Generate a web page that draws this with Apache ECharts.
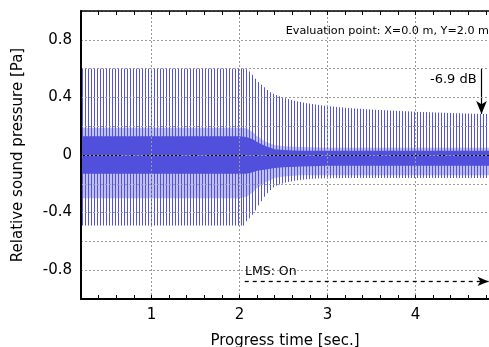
<!DOCTYPE html>
<html>
<head>
<meta charset="utf-8">
<script src="https://cdn.jsdelivr.net/npm/echarts@6/dist/echarts.min.js"></script>
<style>html,body{margin:0;padding:0;background:#fff}#c{width:489px;height:347px}</style>
</head>
<body>
<div id="c"></div>
<script>
// ---- data ----
const spikeTime = [0.21,0.244,0.278,0.312,0.346,0.38,0.414,0.448,0.482,0.516,0.55,0.584,0.618,0.652,0.686,0.72,0.754,0.788,0.822,0.856,0.89,0.924,0.958,0.992,1.026,1.06,1.094,1.128,1.162,1.196,1.23,1.264,1.298,1.332,1.366,1.4,1.434,1.468,1.502,1.536,1.57,1.604,1.638,1.672,1.706,1.74,1.774,1.808,1.842,1.876,1.91,1.944,1.978,2.012,2.046,2.08,2.114,2.148,2.182,2.216,2.25,2.284,2.318,2.352,2.386,2.42,2.454,2.488,2.522,2.556,2.59,2.624,2.658,2.692,2.726,2.76,2.794,2.828,2.862,2.896,2.93,2.964,2.998,3.032,3.066,3.1,3.134,3.168,3.202,3.236,3.27,3.304,3.338,3.372,3.406,3.44,3.474,3.508,3.542,3.576,3.61,3.644,3.678,3.712,3.746,3.78,3.814,3.848,3.882,3.916,3.95,3.984,4.018,4.052,4.086,4.12,4.154,4.188,4.222,4.256,4.29,4.324,4.358,4.392,4.426,4.46,4.494,4.528,4.562,4.596,4.63,4.664,4.698,4.732,4.766,4.8,4.834];
const spikeHigh = [0.6,0.6,0.6,0.6,0.6,0.6,0.6,0.6,0.6,0.6,0.6,0.6,0.6,0.6,0.6,0.6,0.6,0.6,0.6,0.6,0.6,0.6,0.6,0.6,0.6,0.6,0.6,0.6,0.6,0.6,0.6,0.6,0.6,0.6,0.6,0.6,0.6,0.6,0.6,0.6,0.6,0.6,0.6,0.6,0.6,0.6,0.6,0.6,0.6,0.6,0.6,0.6,0.6,0.6,0.6,
  0.595,0.58,0.557,0.53,0.507,0.488,0.47,0.452,0.436,0.425,0.416,0.408,0.4,0.394,0.388,0.382,0.377,0.372,0.368,0.364,0.36,0.357,0.354,0.351,0.348,0.345,0.342,0.34,
  0.338,0.336,0.334,0.332,0.33,0.328,0.327,0.325,0.324,0.322,0.321,0.319,0.318,0.317,0.315,0.314,0.313,0.312,0.311,0.31,0.309,0.308,0.307,0.306,0.305,0.304,0.303,0.302,0.301,0.3,
  0.299,0.298,0.298,0.297,0.296,0.295,0.295,0.294,0.293,0.292,0.292,0.291,0.29,0.29,0.289,0.288,0.288,0.287,0.286,0.286,0.285,0.285,0.284,0.284];
const spikeLow = [-0.49,-0.49,-0.49,-0.49,-0.49,-0.49,-0.49,-0.49,-0.49,-0.49,-0.49,-0.49,-0.49,-0.49,-0.49,-0.49,-0.49,-0.49,-0.49,-0.49,-0.49,-0.49,-0.49,-0.49,-0.49,-0.49,-0.49,-0.49,-0.49,-0.49,-0.49,-0.49,-0.49,-0.49,-0.49,-0.49,-0.49,-0.49,-0.49,-0.49,-0.49,-0.49,-0.49,-0.49,-0.49,-0.49,-0.49,-0.49,-0.49,-0.49,-0.49,-0.49,-0.49,-0.49,-0.49,
  -0.46,-0.44,-0.415,-0.385,-0.35,-0.32,-0.29,-0.265,-0.243,-0.225,-0.213,-0.205,-0.198,-0.192,-0.187,-0.183,-0.179,-0.176,-0.173,-0.171,-0.169,-0.167,-0.165,
  -0.164,-0.163,-0.163,-0.162,-0.162,-0.162,-0.161,-0.161,-0.161,-0.161,-0.16,-0.16,-0.16,-0.16,-0.16,-0.16,-0.16,-0.16,-0.16,-0.16,-0.16,-0.16,-0.16,-0.16,-0.16,-0.16,-0.16,-0.16,-0.16,-0.16,-0.16,-0.16,-0.16,-0.16,-0.16,-0.16,-0.16,-0.16,-0.16,-0.16,-0.16,-0.16,-0.16,-0.16,-0.16,-0.16,-0.16,-0.16,-0.16,-0.16,-0.16,-0.16,-0.16,-0.16,-0.16,-0.16,-0.16,-0.16,-0.16,-0.16,-0.16,-0.16,-0.16,-0.16,-0.16];
const envTime   = [0.2, 2.0, 2.08, 2.15, 2.2, 2.3, 2.4, 2.5, 2.7, 3.0, 4.0, 5.0];
const lightHigh = [0.19, 0.19, 0.185, 0.16, 0.13, 0.09, 0.07, 0.06, 0.055, 0.05, 0.05, 0.05];
const lightLow  = [-0.30, -0.30, -0.29, -0.26, -0.23, -0.19, -0.16, -0.15, -0.14, -0.14, -0.14, -0.14];
const darkHigh  = [0.13, 0.13, 0.125, 0.11, 0.09, 0.06, 0.04, 0.035, 0.03, 0.03, 0.03, 0.03];
const darkLow   = [-0.13, -0.13, -0.13, -0.12, -0.11, -0.10, -0.09, -0.085, -0.08, -0.075, -0.075, -0.075];
const xGridLines = [1, 2, 3, 4];
const xTickLabels = [1, 2, 3, 4];
const yTickLabels = [-0.8, -0.4, 0, 0.4, 0.8];
const arrowDB = { t: 4.75, from: 0.6, to: 0.285, label: '-6.9 dB' };
const lmsArrow = { from: 2.06, to: 4.83, y: -0.878, label: 'LMS: On' };
const evalText = 'Evaluation point: X=0.0 m, Y=2.0 m';

// ---- chart ----
const FONT = '"DejaVu Sans", sans-serif';
const chart = echarts.init(document.getElementById('c'), null, { renderer: 'canvas' });

function band(hi, lo, color) {
  return {
    type: 'custom', silent: true, z: 2, clip: true,
    data: envTime.map((t, i) => [t, hi[i], lo[i]]),
    encode: { x: 0, y: [1, 2] },
    renderItem: function (params, api) {
      if (params.dataIndex !== 0) return null;
      const pts = [];
      for (let i = 0; i < envTime.length; i++) pts.push(api.coord([envTime[i], hi[i]]));
      for (let i = envTime.length - 1; i >= 0; i--) pts.push(api.coord([envTime[i], lo[i]]));
      return { type: 'polygon', shape: { points: pts }, style: { fill: color } };
    }
  };
}

const grayDash = { color: '#9a9a9a', width: 1, type: [2, 2] };

const option = {
  animation: false,
  backgroundColor: '#fff',
  grid: { left: 81, top: 11, right: 0, bottom: 48, containLabel: false, outerBoundsMode: 'none' },
  xAxis: [{
    type: 'value', min: 0.2, max: 4.835, interval: 0.2, position: 'bottom', z: 10,
    axisLine: { show: true, onZero: false, lineStyle: { color: '#000', width: 2 } },
    axisTick: { show: true, inside: true, length: 4, lineStyle: { color: '#000', width: 1 } },
    axisLabel: {
      margin: 9, color: '#000', fontSize: 15, fontFamily: FONT, showMaxLabel: false,
      formatter: v => { const r = Math.round(v * 10) / 10; return xTickLabels.includes(r) ? String(r) : ''; }
    },
    splitLine: { show: false },
    name: 'Progress time [sec.]', nameLocation: 'middle', nameGap: 35,
    nameTextStyle: { fontSize: 15, fontFamily: FONT, color: '#000' }
  }, {
    type: 'value', min: 0.2, max: 4.835, interval: 0.2, position: 'top', z: 10,
    axisLine: { show: true, onZero: false, lineStyle: { color: '#000', width: 1.5 } },
    axisTick: { show: true, inside: true, length: 4, lineStyle: { color: '#000', width: 1 } },
    axisLabel: { show: false }, splitLine: { show: false }
  }],
  yAxis: {
    type: 'value', min: -1, max: 1, interval: 0.2, z: 10,
    axisLine: { show: true, onZero: false, lineStyle: { color: '#000', width: 2 } },
    axisTick: { show: false },
    axisLabel: {
      margin: 9, color: '#000', fontSize: 15, fontFamily: FONT,
      formatter: v => { const r = Math.round(v * 10) / 10; return yTickLabels.includes(r) ? String(r) : ''; }
    },
    splitLine: { show: true, lineStyle: grayDash },
    name: 'Relative sound pressure [Pa]', nameLocation: 'middle', nameGap: 55,
    nameTextStyle: { fontSize: 15, fontFamily: FONT, color: '#000' }
  },
  series: [
    band(lightHigh, lightLow, '#c0c0f2'),
    {
      type: 'custom', silent: true, z: 3, clip: true,
      data: spikeTime.map((t, i) => [t, spikeHigh[i], spikeLow[i]]),
      encode: { x: 0, y: [1, 2] },
      renderItem: function (params, api) {
        const a = api.coord([api.value(0), api.value(1)]);
        const b = api.coord([api.value(0), api.value(2)]);
        const x = Math.round(a[0]) + 0.5;
        return { type: 'line', shape: { x1: x, y1: a[1], x2: x, y2: b[1] },
                 style: { stroke: '#5252e8', lineWidth: 1 } };
      }
    },
    Object.assign(band(darkHigh, darkLow, '#5050dc'), { z: 4 }),
    {
      type: 'line', data: [], z: 11, silent: true,
      markLine: {
        silent: true, symbol: ['none', 'none'], animation: false,
        label: { show: false },
        lineStyle: grayDash,
        data: xGridLines.map(v => ({ xAxis: v }))
      }
    },
    {
      type: 'line', data: [], z: 12, silent: true,
      markLine: {
        silent: true, animation: false, label: { show: false },
        data: [
          [{ coord: [0.2, 0], symbol: 'none', lineStyle: { color: '#000', width: 1, type: [40, 8, 6, 8] } },
           { coord: [4.835, 0], symbol: 'none' }],
          [{ coord: [arrowDB.t, arrowDB.from], symbol: 'none', lineStyle: { color: '#000', width: 1.2, type: 'solid' } },
           { coord: [arrowDB.t, arrowDB.to], symbol: 'arrow', symbolSize: [8, 13] }],
          [{ coord: [lmsArrow.from, lmsArrow.y], symbol: 'none', lineStyle: { color: '#000', width: 1.3, type: [4, 4] } },
           { coord: [lmsArrow.to, lmsArrow.y], symbol: 'arrow', symbolSize: [7, 11] }]
        ]
      }
    }
  ],
  graphic: [
    { type: 'text', right: 0, top: 26, z: 20,
      style: { text: evalText, fontSize: 11.2, fontFamily: FONT, fill: '#000' } },
    { type: 'text', left: 430, top: 73, z: 20,
      style: { text: arrowDB.label, fontSize: 13, fontFamily: FONT, fill: '#000' } },
    { type: 'text', left: 245, top: 265, z: 20,
      style: { text: lmsArrow.label, fontSize: 12.5, fontFamily: FONT, fill: '#000' } }
  ]
};
chart.setOption(option);
</script>
</body>
</html>
